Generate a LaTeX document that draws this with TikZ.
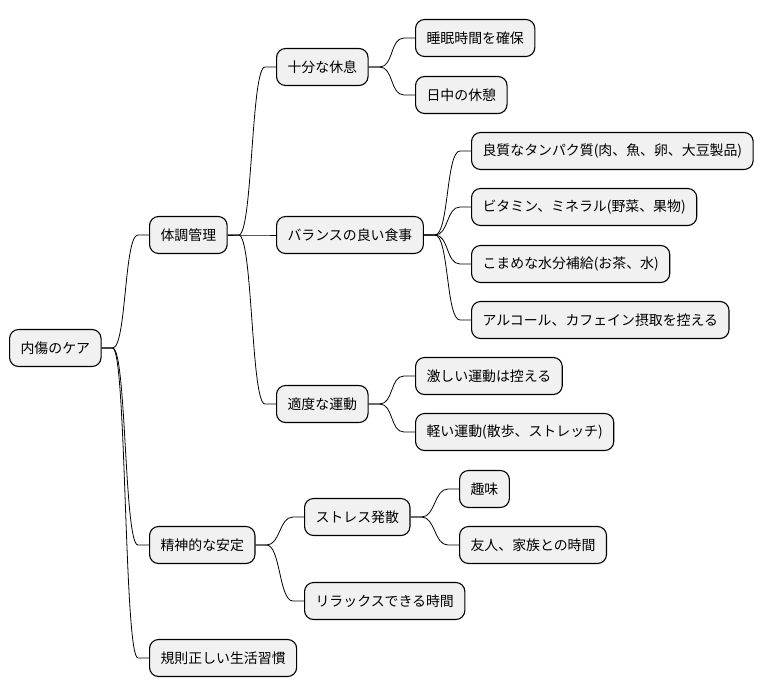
\documentclass[tikz,border=0pt]{standalone}
\usepackage{fontspec}
\newfontfamily\jpfont{Noto Sans CJK JP}
\usetikzlibrary{positioning}
\definecolor{boxgray}{HTML}{F1F1F1}

\begin{document}
\begin{tikzpicture}[x=1pt, y=-1pt,
    box/.style={rectangle, draw, fill=boxgray, rounded corners=9pt, minimum height=37pt,
                inner xsep=11pt, anchor=west, line width=1.1pt,
                font=\jpfont\fontsize{13.9}{16}\selectfont},
    link/.style={draw, line width=0.8pt}]
    \useasboundingbox (0,0) rectangle (765,696);

    % Root node
    \node [box] (care) at (9,348) {内傷のケア};

    % First level
    \node [box] (body)  at (149,235) {体調管理};
    \node [box] (mind)  at (149,545) {精神的な安定};
    \node [box] (habit) at (149,658) {規則正しい生活習慣};

    % Children of body
    \node [box] (rest)     at (276,67)  {十分な休息};
    \node [box] (meal)     at (276,235) {バランスの良い食事};
    \node [box] (exercise) at (276,404) {適度な運動};

    \node [box] (sleep)  at (415,38) {睡眠時間を確保};
    \node [box] (break)  at (415,95) {日中の休憩};

    \node [box] (protein) at (471,151) {良質なタンパク質(肉、魚、卵、大豆製品)};
    \node [box] (vitamin) at (471,207) {ビタミン、ミネラル(野菜、果物)};
    \node [box] (water)   at (471,264) {こまめな水分補給(お茶、水)};
    \node [box] (alcohol) at (471,320) {アルコール、カフェイン摂取を控える};

    \node [box] (hard)  at (415,376) {激しい運動は控える};
    \node [box] (light) at (415,432) {軽い運動(散歩、ストレッチ)};

    % Children of mind
    \node [box] (stress) at (304,517) {ストレス発散};
    \node [box] (relax)  at (304,601) {リラックスできる時間};

    \node [box] (hobby)  at (459,489) {趣味};
    \node [box] (family) at (459,545) {友人、家族との時間};

    % Connectors
    \foreach \a/\b in {care/body, care/mind, care/habit,
                       body/rest, body/meal, body/exercise,
                       rest/sleep, rest/break,
                       meal/protein, meal/vitamin, meal/water, meal/alcohol,
                       exercise/hard, exercise/light,
                       mind/stress, mind/relax,
                       stress/hobby, stress/family}
        \draw [link] (\a.east) -- ++(11,0) .. controls +(14,0) and +(-14,0) .. ([xshift=-11pt]\b.west) -- (\b.west);
\end{tikzpicture}
\end{document}
